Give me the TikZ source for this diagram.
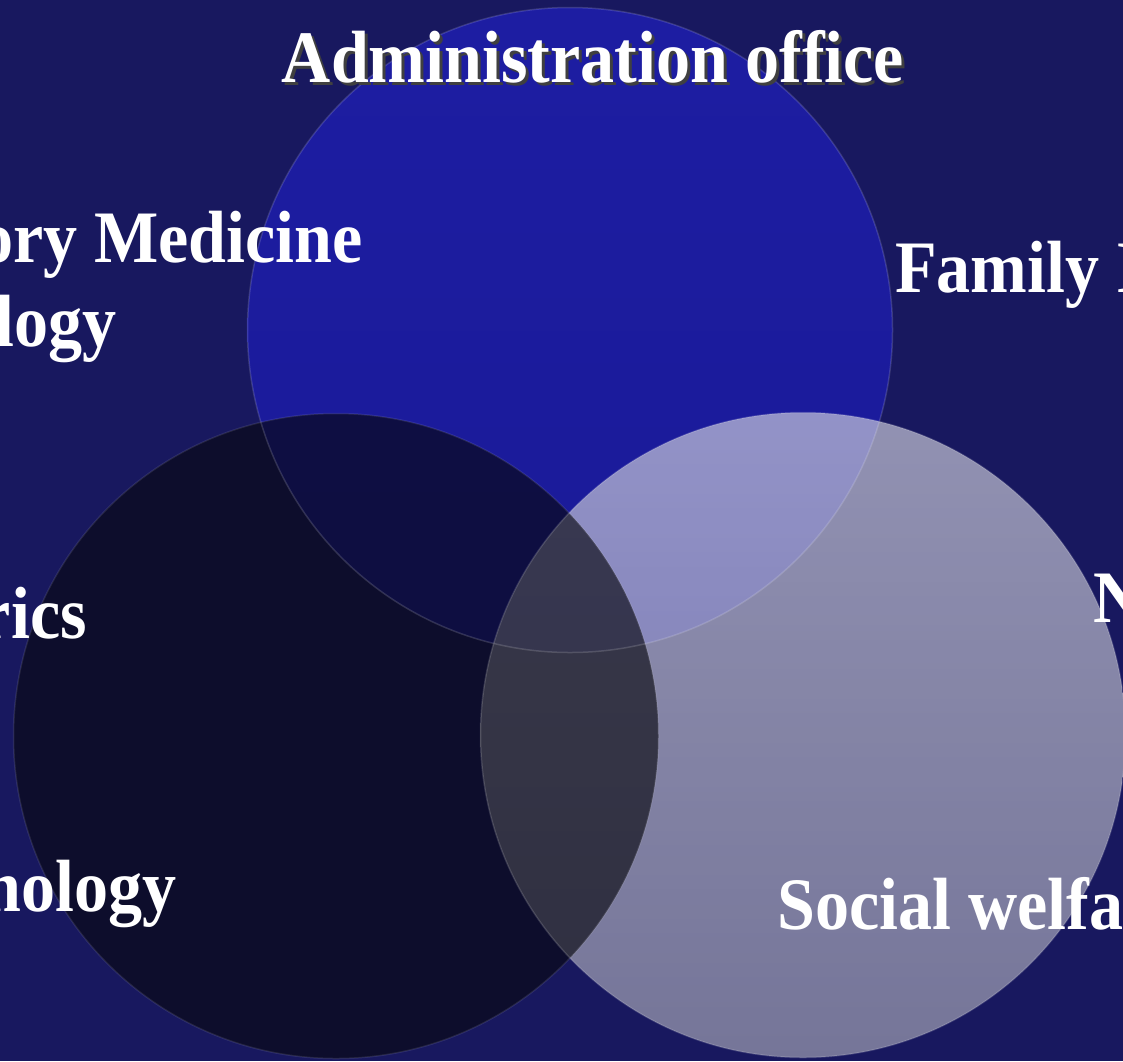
\documentclass[tikz,border=0pt]{standalone}
\usepackage{fontspec}
\setmainfont{Liberation Serif}
\newfontfamily\slidefont[FakeStretch=0.92]{Liberation Serif}
\usetikzlibrary{positioning}
\usetikzlibrary{backgrounds}
\definecolor{slide_bg}{HTML}{18185F}
\definecolor{admin_blue}{HTML}{1A1A98}
\definecolor{admin_blue_top}{HTML}{1D1DA2}
\definecolor{night_navy}{HTML}{080810}
\definecolor{soft_grey_top}{HTML}{D4D4E0}
\definecolor{soft_grey_bottom}{HTML}{A8A8B8}

\begin{document}
\begin{tikzpicture}[
        x=1pt, y=-1pt,
        venn/.style={circle, minimum size=645pt, inner sep=0},
        topcircle/.style={venn, top color=admin_blue_top, bottom color=admin_blue},
        leftcircle/.style={venn, fill=night_navy, fill opacity=0.64},
        rightcircle/.style={venn, top color=soft_grey_top, bottom color=soft_grey_bottom, fill opacity=0.65},
        rim/.style={draw=white, draw opacity=0.15, line width=1.5pt},
        labeltext/.style={text=white, inner sep=0, font=\slidefont\bfseries\fontsize{74}{86}\selectfont},
    ]
    \useasboundingbox (0,0) rectangle (1123,1061);
    \fill[slide_bg] (0,0) rectangle (1123,1061);
    \clip (0,0) rectangle (1123,1061);

    % ------------ circles
    \node[topcircle] (admincircle) at (570,330) {};
    \node[rightcircle] (welfarecircle) at (803,735) {};
    \node[leftcircle] (clinicalcircle) at (336,736) {};

    \node[venn, rim] (adminrim) at (admincircle) {};
    \node[venn, rim] (welfarerim) at (welfarecircle) {};
    \node[venn, rim, draw opacity=0.1] (clinicalrim) at (clinicalcircle) {};

    % ------------ labels
    \node[labeltext, anchor=base] (admin) at (593,82)
        {\rlap{\hspace{3pt}\raisebox{-3pt}{\color{black!75}Administration office}}Administration office};

    \node[labeltext, anchor=base east] (medicine) at (363,262) {ory Medicine};
    \node[labeltext, anchor=base east] (logy) at (117,346) {logy};
    \node[labeltext, anchor=base east] (rics) at (87,638) {rics};
    \node[labeltext, anchor=base east] (nology) at (177,911) {nology};

    \node[labeltext, anchor=base west] (family) at (895,292) {Family I};
    \node[labeltext, anchor=base west] (nursing) at (1093,622) {N};
    \node[labeltext, anchor=base west] (welfare) at (777,929) {Social welfa};
\end{tikzpicture}
\end{document}
